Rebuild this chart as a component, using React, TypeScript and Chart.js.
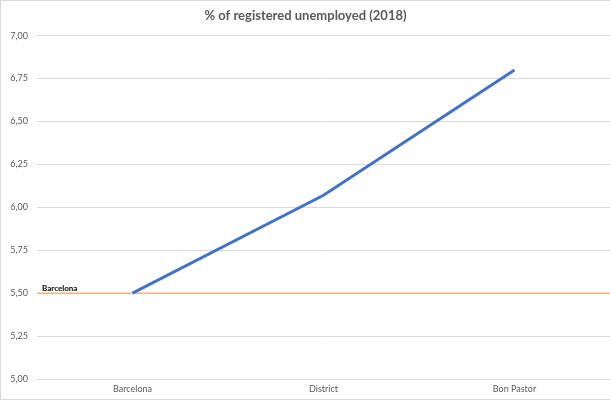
import React, { useEffect, useRef } from "react";
import { Chart, registerables } from "chart.js";
Chart.register(...registerables);

const categories = ["Barcelona", "District", "Bon Pastor"];
const unemployed = [5.5, 6.07, 6.8];
const referenceValue = 5.5;
const referenceLabel = "Barcelona";
const yTicks = [5.0, 5.25, 5.5, 5.75, 6.0, 6.25, 6.5, 6.75, 7.0];
const titleText = "% of registered unemployed (2018)";

const FONT = "Lato, 'Open Sans', sans-serif";

const refLabelPlugin = {
  id: "refLabel",
  afterDatasetsDraw(chart: any) {
    const y = chart.scales.y.getPixelForValue(referenceValue);
    const ctx = chart.ctx;
    ctx.save();
    ctx.font = `bold 8px ${FONT}`;
    ctx.fillStyle = "#000000";
    ctx.textBaseline = "bottom";
    ctx.textAlign = "left";
    ctx.fillText(referenceLabel, chart.chartArea.left + 5, y - 1);
    ctx.restore();
  },
};

export default function App() {
  const ref = useRef<HTMLCanvasElement | null>(null);
  useEffect(() => {
    if (!ref.current) return;
    const chart = new Chart(ref.current, {
      type: "line",
      data: {
        labels: categories,
        datasets: [
          {
            label: "Unemployed",
            data: unemployed,
            borderColor: "#4472C4",
            borderWidth: 3,
            pointRadius: 0,
            tension: 0,
            xAxisID: "x",
            order: 1,
          },
          {
            label: referenceLabel,
            data: [
              { x: 0, y: referenceValue },
              { x: 1, y: referenceValue },
            ],
            borderColor: "#F4B183",
            borderWidth: 1.5,
            pointRadius: 0,
            xAxisID: "x2",
            order: 2,
          } as any,
        ],
      },
      options: {
        animation: false,
        responsive: false,
        maintainAspectRatio: false,
        layout: { padding: { left: 0, right: 0, top: 3, bottom: 0 } },
        plugins: {
          legend: { display: false },
          tooltip: { enabled: false },
          title: {
            display: true,
            text: titleText,
            color: "#595959",
            font: { family: FONT, size: 13, weight: "bold" },
            padding: { top: 4, bottom: 12 },
          },
        },
        scales: {
          x: {
            type: "category",
            offset: true,
            grid: { display: false, drawTicks: false },
            border: { display: false },
            ticks: {
              color: "#595959",
              font: { family: FONT, size: 9 },
              padding: 5,
            },
            afterFit(s: any) {
              s.height = 20;
            },
          },
          x2: {
            type: "linear",
            display: false,
            min: 0,
            max: 1,
          },
          y: {
            min: 5,
            max: 7,
            afterBuildTicks(s: any) {
              s.ticks = yTicks.map((v) => ({ value: v }));
            },
            grid: { color: "#D9D9D9", drawTicks: false, lineWidth: 1 },
            border: { display: false },
            ticks: {
              color: "#595959",
              font: { family: FONT, size: 9 },
              padding: 9,
              callback: (v: any) => Number(v).toFixed(2).replace(".", ","),
            },
            afterFit(s: any) {
              s.width = 36;
            },
          },
        },
      },
      plugins: [refLabelPlugin],
    });
    return () => chart.destroy();
  }, []);
  return (
    <div
      style={{
        position: "fixed",
        left: 0,
        top: 0,
        width: 609,
        height: 398,
        borderTop: "1px solid #D9D9D9",
        borderLeft: "1px solid #D9D9D9",
        borderBottom: "1px solid #D9D9D9",
        background: "#ffffff",
      }}
    >
      <canvas ref={ref} width={609} height={398} style={{ display: "block" }} />
    </div>
  );
}
